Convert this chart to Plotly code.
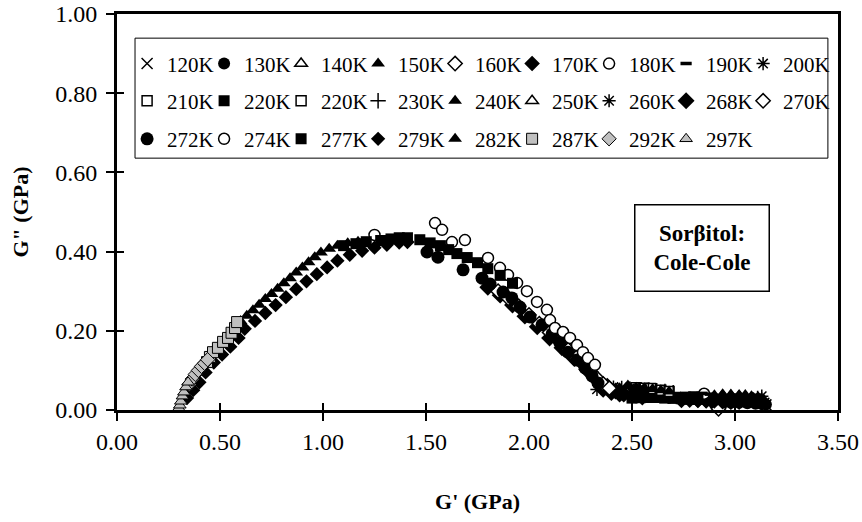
import plotly.graph_objects as go

# ---------------- data (G' and G'' in GPa) ----------------
gp_120 = [3.00, 3.04, 3.08, 3.11, 3.14, 3.15]
gpp_120 = [0.020, 0.022, 0.022, 0.020, 0.017, 0.013]
gp_130 = [2.90, 2.94, 2.98, 3.02, 3.06, 3.10, 3.13, 3.15]
gpp_130 = [0.016, 0.017, 0.018, 0.018, 0.017, 0.016, 0.015, 0.014]
gp_140 = [2.94, 2.98, 3.02, 3.08, 3.11]
gpp_140 = [0.038, 0.037, 0.036, 0.033, 0.030]
gp_150 = [2.86, 2.90, 2.94, 2.98, 3.02, 3.05, 3.08, 3.11, 3.14]
gpp_150 = [0.036, 0.037, 0.038, 0.037, 0.036, 0.038, 0.033, 0.030, 0.026]
gp_160 = [2.82, 2.86, 2.90, 2.92, 2.94, 2.98]
gpp_160 = [0.025, 0.024, 0.023, 0.003, 0.022, 0.021]
gp_170 = [2.74, 2.78, 2.82, 2.86, 2.90, 2.94, 2.98, 3.02]
gpp_170 = [0.024, 0.025, 0.025, 0.024, 0.023, 0.022, 0.021, 0.020]
gp_180 = [2.74, 2.78, 2.82, 2.85]
gpp_180 = [0.029, 0.028, 0.027, 0.041]
gp_190 = [2.68, 2.72, 2.76, 2.80, 2.84, 2.88, 2.92]
gpp_190 = [0.038, 0.040, 0.042, 0.043, 0.042, 0.040, 0.037]
gp_200 = [2.96, 3.00, 3.04, 3.08, 3.11, 3.13]
gpp_200 = [0.024, 0.026, 0.027, 0.029, 0.032, 0.035]
gp_210 = [2.58, 2.62, 2.66, 2.70, 2.74, 2.78]
gpp_210 = [0.032, 0.032, 0.031, 0.030, 0.029, 0.028]
gp_220a = [2.50, 2.54, 2.58, 2.62, 2.66, 2.70, 2.74, 2.78, 2.82]
gpp_220a = [0.030, 0.031, 0.032, 0.032, 0.031, 0.030, 0.029, 0.028, 0.027]
gp_220b = [2.52, 2.56, 2.59, 2.64, 2.68]
gpp_220b = [0.056, 0.055, 0.054, 0.050, 0.047]
gp_230 = [2.46, 2.50, 2.54, 2.58, 2.62, 2.66, 2.70]
gpp_230 = [0.044, 0.047, 0.049, 0.050, 0.049, 0.047, 0.044]
gp_240 = [2.40, 2.44, 2.48, 2.52, 2.56, 2.60, 2.64, 2.68]
gpp_240 = [0.050, 0.055, 0.062, 0.056, 0.055, 0.053, 0.050, 0.047]
gp_250 = [2.38, 2.42, 2.46, 2.50, 2.55]
gpp_250 = [0.060, 0.048, 0.040, 0.036, 0.033]
gp_260 = [2.33, 2.37, 2.41, 2.45, 2.49, 2.53, 2.57]
gpp_260 = [0.052, 0.056, 0.058, 0.057, 0.055, 0.052, 0.048]
gp_268 = [1.80, 1.86, 1.92, 1.98, 2.04, 2.10, 2.16, 2.22, 2.28, 2.33, 2.36, 2.38, 2.40,
          2.42, 2.44, 2.46, 2.50, 2.55]
gpp_268 = [0.310, 0.290, 0.265, 0.237, 0.210, 0.182, 0.157, 0.130, 0.102, 0.075, 0.052,
           0.060, 0.044, 0.048, 0.040, 0.040, 0.036, 0.033]
gp_270 = [1.85, 1.90, 1.95, 2.00, 2.05, 2.10, 2.15, 2.19, 2.23, 2.27, 2.30, 2.33, 2.36, 2.39]
gpp_270 = [0.300, 0.282, 0.262, 0.240, 0.218, 0.196, 0.172, 0.152, 0.132, 0.112, 0.096,
           0.080, 0.066, 0.055]
gp_272 = [1.505, 1.558, 1.680, 1.772, 1.811, 1.874, 1.917, 1.956, 2.005, 2.063, 2.112,
          2.150, 2.189, 2.233, 2.272, 2.306, 2.335]
gpp_272 = [0.399, 0.386, 0.354, 0.333, 0.318, 0.298, 0.283, 0.260, 0.235, 0.215, 0.192,
           0.169, 0.146, 0.126, 0.106, 0.086, 0.068]
gp_274 = [1.25, 1.544, 1.578, 1.626, 1.689, 1.801, 1.859, 1.898, 1.942, 1.990, 2.039,
          2.087, 2.102, 2.126, 2.165, 2.199, 2.233, 2.262, 2.286, 2.320]
gpp_274 = [0.442, 0.472, 0.455, 0.424, 0.429, 0.384, 0.359, 0.341, 0.321, 0.300, 0.273,
           0.253, 0.227, 0.207, 0.197, 0.182, 0.164, 0.146, 0.131, 0.114]
gp_277 = [1.10, 1.16, 1.21, 1.28, 1.33, 1.37, 1.41, 1.47, 1.52, 1.57, 1.61, 1.65, 1.70,
          1.75, 1.80, 1.86, 1.92]
gpp_277 = [0.415, 0.420, 0.425, 0.428, 0.432, 0.435, 0.435, 0.430, 0.422, 0.415, 0.405,
           0.395, 0.385, 0.372, 0.357, 0.340, 0.320]
gp_279 = [0.34, 0.37, 0.40, 0.43, 0.47, 0.51, 0.55, 0.59, 0.62, 0.67, 0.72, 0.77, 0.82,
          0.87, 0.92, 0.97, 1.02, 1.07, 1.13, 1.19, 1.25, 1.31, 1.37, 1.41]
gpp_279 = [0.030, 0.050, 0.070, 0.095, 0.120, 0.140, 0.160, 0.182, 0.205, 0.225, 0.245,
           0.265, 0.285, 0.305, 0.325, 0.343, 0.360, 0.377, 0.392, 0.402, 0.410, 0.417,
           0.423, 0.424]
gp_282 = [0.60, 0.63, 0.66, 0.69, 0.72, 0.75, 0.78, 0.81, 0.84, 0.87, 0.90, 0.93, 0.96,
          0.99, 1.03, 1.07, 1.12, 1.17]
gpp_282 = [0.225, 0.238, 0.252, 0.266, 0.280, 0.293, 0.306, 0.320, 0.333, 0.347, 0.360,
           0.373, 0.386, 0.398, 0.407, 0.415, 0.421, 0.425]
gp_287 = [0.437, 0.451, 0.466, 0.490, 0.515, 0.539, 0.556, 0.573, 0.583]
gpp_287 = [0.121, 0.134, 0.146, 0.157, 0.172, 0.182, 0.195, 0.207, 0.222]
gp_292 = [0.350, 0.365, 0.380, 0.395, 0.410, 0.425, 0.440]
gpp_292 = [0.065, 0.078, 0.090, 0.100, 0.110, 0.118, 0.127]
gp_297 = [0.300, 0.305, 0.310, 0.318, 0.325, 0.335, 0.345]
gpp_297 = [0.005, 0.012, 0.022, 0.035, 0.045, 0.058, 0.070]

x_ticks = [0.0, 0.5, 1.0, 1.5, 2.0, 2.5, 3.0, 3.5]
y_ticks = [0.0, 0.2, 0.4, 0.6, 0.8, 1.0]

FONT = "Liberation Serif"
BLK = "black"
GRY = "#C0C0C0"
WHT = "white"

# name, x, y, symbol, size, fill, line width, legend row, last-in-row
series = [
    ("120K", gp_120, gpp_120, "x-thin-open", 11, BLK, 1.5, "legend", False),
    ("130K", gp_130, gpp_130, "circle", 12, BLK, 0, "legend", False),
    ("140K", gp_140, gpp_140, "triangle-up", 11, WHT, 1.5, "legend", False),
    ("150K", gp_150, gpp_150, "triangle-up", 12, BLK, 0, "legend", False),
    ("160K", gp_160, gpp_160, "diamond", 11, WHT, 1.5, "legend", False),
    ("170K", gp_170, gpp_170, "diamond", 12, BLK, 0, "legend", False),
    ("180K", gp_180, gpp_180, "circle", 11, WHT, 1.5, "legend", False),
    ("190K", gp_190, gpp_190, "line-ew-open", 8, BLK, 3.5, "legend", False),
    ("200K", gp_200, gpp_200, "asterisk-open", 11, BLK, 1.5, "legend", True),
    ("210K", gp_210, gpp_210, "square", 10, WHT, 1.5, "legend2", False),
    ("220K", gp_220a, gpp_220a, "square", 11, BLK, 0, "legend2", False),
    ("220K", gp_220b, gpp_220b, "square", 10, WHT, 1.5, "legend2", False),
    ("230K", gp_230, gpp_230, "cross-thin-open", 11, BLK, 1.5, "legend2", False),
    ("240K", gp_240, gpp_240, "triangle-up", 12, BLK, 0, "legend2", False),
    ("250K", gp_250, gpp_250, "triangle-up", 11, WHT, 1.5, "legend2", False),
    ("260K", gp_260, gpp_260, "asterisk-open", 11, BLK, 1.5, "legend2", False),
    ("268K", gp_268, gpp_268, "diamond", 13, BLK, 0, "legend2", False),
    ("270K", gp_270, gpp_270, "diamond", 11, WHT, 1.5, "legend2", True),
    ("272K", gp_272, gpp_272, "circle", 13, BLK, 0, "legend3", False),
    ("274K", gp_274, gpp_274, "circle", 11, WHT, 1.5, "legend3", False),
    ("277K", gp_277, gpp_277, "square", 11, BLK, 0, "legend3", False),
    ("279K", gp_279, gpp_279, "diamond", 11, BLK, 0, "legend3", False),
    ("282K", gp_282, gpp_282, "triangle-up", 12, BLK, 0, "legend3", False),
    ("287K", gp_287, gpp_287, "square", 11, GRY, 1, "legend3", False),
    ("292K", gp_292, gpp_292, "diamond", 11, GRY, 1, "legend3", False),
    ("297K", gp_297, gpp_297, "triangle-up", 11, GRY, 1, "legend3", True),
]

fig = go.Figure()
for name, xs, ys, sym, size, fill, lw, leg, last in series:
    if sym.endswith("-open"):
        marker = dict(symbol=sym, size=size, color=BLK, line=dict(color=BLK, width=lw))
    else:
        marker = dict(symbol=sym, size=size, color=fill,
                      line=dict(color=BLK, width=lw))
    fig.add_trace(go.Scatter(x=xs, y=ys, mode="markers", name=name, marker=marker,
                             legend=leg, legendwidth=55 if last else 32,
                             cliponaxis=False))

# invisible trace to activate the overlay axes (for crossing ticks)
fig.add_trace(go.Scatter(x=[None], y=[None], xaxis="x2", yaxis="y2",
                         showlegend=False, hoverinfo="skip"))

axis_common = dict(showgrid=False, zeroline=False, linecolor=BLK, linewidth=3,
                   ticks="outside", ticklen=8, tickwidth=2, tickcolor=BLK,
                   automargin=False, ticklabeloverflow="allow",
                   tickfont=dict(family=FONT, size=24, color=BLK), tickformat=".2f")

fig.update_layout(
    width=862, height=522,
    margin=dict(l=117, r=24, t=14, b=112, autoexpand=False),
    paper_bgcolor="white", plot_bgcolor="white",
    font=dict(family=FONT, color=BLK),
    xaxis=dict(range=[0, 3.5], tickvals=x_ticks, showline=True, mirror=True,
               ticklabelstandoff=0,
               title=dict(text="<b>G' (GPa)</b>", font=dict(family=FONT, size=22),
                          standoff=40),
               **axis_common),
    yaxis=dict(range=[0, 1.0], tickvals=y_ticks, showline=True, mirror=True,
               ticklabelstandoff=4,
               title=dict(text='<b>G" (GPa)</b>', font=dict(family=FONT, size=22),
                          standoff=21),
               **axis_common),
    xaxis2=dict(overlaying="x", matches="x", anchor="y2", side="bottom",
                tickvals=x_ticks, ticks="inside", ticklen=7, tickwidth=2,
                tickcolor=BLK, showticklabels=False, showgrid=False,
                zeroline=False, showline=False, automargin=False),
    yaxis2=dict(overlaying="y", matches="y", anchor="x2", side="left",
                tickvals=y_ticks, ticks="inside", ticklen=7, tickwidth=2,
                tickcolor=BLK, showticklabels=False, showgrid=False,
                zeroline=False, showline=False, automargin=False),
    showlegend=True,
)

leg_common = dict(orientation="h", xanchor="left", yanchor="middle",
                  bgcolor="rgba(0,0,0,0)", borderwidth=0,
                  itemwidth=30, itemclick=False, itemdoubleclick=False,
                  font=dict(family=FONT, size=21, color=BLK), tracegroupgap=0)
fig.update_layout(
    legend=dict(x=0.014, y=0.874, **leg_common),
    legend2=dict(x=0.014, y=0.780, **leg_common),
    legend3=dict(x=0.014, y=0.684, **leg_common),
)

# legend frame
fig.add_shape(type="rect", xref="paper", yref="paper",
              x0=0.025, x1=0.986, y0=0.636, y1=0.939,
              line=dict(color=BLK, width=1), fillcolor="white", layer="below")

# label box
fig.add_annotation(xref="paper", yref="paper", x=0.812, y=0.408,
                   xanchor="center", yanchor="middle",
                   text="<b>Sorβitol:<br>Cole-Cole</b>", showarrow=False,
                   font=dict(family=FONT, size=23, color=BLK),
                   width=131, height=83, align="center",
                   bordercolor=BLK, borderwidth=1.5, bgcolor="white")

fig.write_html("out.html", config={"displayModeBar": False},
               post_script="document.body.style.margin='0';"
                           "document.body.style.overflow='hidden';")
